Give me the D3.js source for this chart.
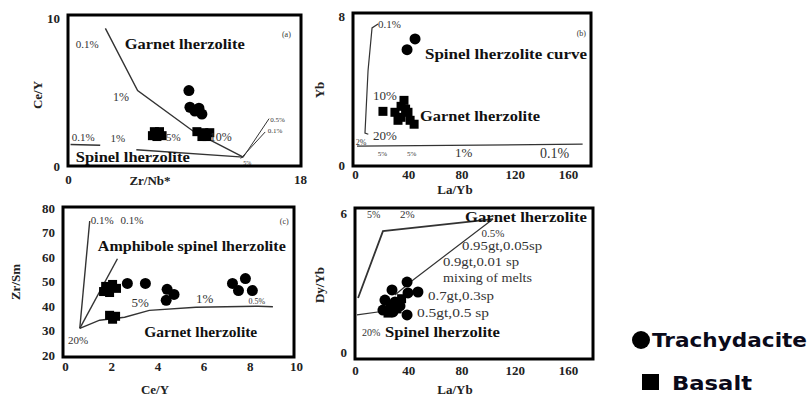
<!DOCTYPE html>
<html>
<head>
<meta charset="utf-8">
<script src="https://cdn.jsdelivr.net/npm/d3@7"></script>
<style>
  body { margin: 0; background: #fff; }
  svg { display: block; }
  .tick text { font-family: "Liberation Serif", serif; font-weight: bold; font-size: 13px; fill: #222; }
</style>
</head>
<body>
<svg id="chart" width="810" height="396"></svg>
<script>
// ---- panel (a): Ce/Y vs Zr/Nb*
const aTrachy = [[9.38, 5.1], [9.46, 3.97], [10.16, 3.91], [10.39, 3.51], [9.84, 3.71]];
const aBasalt = [[6.7, 2.32], [7.1, 2.32], [6.9, 1.99], [7.3, 2.05], [6.55, 2.05],
  [10.0, 2.32], [10.54, 2.25], [11.0, 2.25], [10.39, 1.99], [10.78, 1.99]];
const aGarnetCurve = [[2.9, 9.3], [5.4, 5.1], [9.8, 2.3], [13.6, 0.6]];
const aSpinelLeft = [[0.2, 1.45], [2.5, 1.4]];
const aSpinelCurve = [[5.3, 1.1], [13.6, 0.6]];
const aMix1 = [[13.6, 0.6], [15.6, 3.2]];
const aMix2 = [[13.4, 0.5], [15.3, 2.3]];
const aXTicks = [0, 18];
const aYTicks = [0, 10];

// ---- panel (b): Yb vs La/Yb
const bTrachy = [[45.1, 6.77], [39.1, 6.19]];
const bBasalt = [[21, 2.88], [30, 2.83], [34.6, 3.15], [36.8, 3.47], [34.6, 2.56],
  [39.8, 2.83], [41.4, 2.4], [44.4, 2.19], [32.3, 2.4], [38, 3.0]];
const bSpinelCurve = [[17.3, 7.57], [12.8, 7.36], [9.8, 5.07], [7.5, 1.71], [10, 1.65]];
const bGarnetCurve = [[1.5, 1.01], [171, 1.12]];
const bXTicks = [0, 40, 80, 120, 160];
const bYTicks = [0, 8];

// ---- panel (c): Zr/Sm vs Ce/Y
const cTrachy = [[2.7, 49.2], [3.48, 49.2], [4.42, 46.8], [4.72, 44.7], [4.38, 42.3],
  [7.25, 49.2], [7.81, 51.2], [7.51, 46.3], [8.11, 46.3]];
const cBasalt = [[1.76, 48.0], [2.06, 48.8], [2.23, 47.2], [1.93, 45.5], [1.67, 45.9],
  [1.93, 36.2], [2.19, 35.8], [2.06, 34.6]];
const cSteep1 = [[1.07, 74.7], [0.64, 30.9]];
const cSteep2 = [[2.27, 59.3], [0.64, 30.9]];
const cGarnetCurve = [[0.64, 30.9], [1.5, 34.2], [2.58, 35.4], [3.65, 38.2], [5.67, 39.5], [8.37, 39.9], [9.0, 39.7]];
const cXTicks = [0, 2, 4, 6, 8, 10];
const cYTicks = [20, 30, 40, 50, 60, 70, 80];

// ---- panel (d): Dy/Yb vs La/Yb
const dTrachy = [[39.1, 3.02], [27.8, 2.68], [47.3, 2.59], [39.8, 2.55], [22.5, 2.24],
  [30.1, 2.16], [21.0, 1.81], [28.5, 1.73], [39.1, 1.6], [33.8, 1.99]];
const dBasalt = [[26.3, 2.03], [31.6, 1.86], [24.8, 1.68], [35, 2.3]];
const dGarnetCurve = [[2.3, 2.33], [21, 5.22], [103.7, 5.74]];
const dMixLine = [[103.7, 5.74], [43.6, 3.11], [30, 2.46]];
const dSpinelCurve = [[1.5, 1.6], [22.5, 1.77]];
const dXTicks = [0, 40, 80, 120, 160];
const dYTicks = [0, 6];

const svg = d3.select('#chart');
const serif = '"Liberation Serif", "DejaVu Serif", serif';

function drawPanel(p) {
  const x = d3.scaleLinear().domain(p.xDomain).range(p.xRange);
  const y = d3.scaleLinear().domain(p.yDomain).range(p.yRange);
  const g = svg.append('g');
  const line = d3.line().x(d => x(d[0])).y(d => y(d[1]));

  g.append('g')
    .attr('transform', `translate(0,${p.frame.y1 + 2})`)
    .call(d3.axisBottom(x).tickValues(p.xTicks).tickFormat(d3.format('d')).tickSize(0).tickPadding(p.xPad))
    .call(s => s.select('.domain').remove());
  g.append('g')
    .attr('transform', `translate(${p.frame.x0 - 2},0)`)
    .call(d3.axisLeft(y).tickValues(p.yTicks).tickFormat(d3.format('d')).tickSize(0).tickPadding(6))
    .call(s => s.select('.domain').remove());

  p.lines.forEach(l => {
    g.append('path').datum(l.data)
      .attr('d', line)
      .attr('fill', 'none')
      .attr('stroke', '#333')
      .attr('stroke-width', l.w || 1.4);
  });

  g.selectAll('rect.basalt').data(p.basalt).enter().append('rect')
    .attr('class', 'basalt')
    .attr('x', d => x(d[0]) - 4.5)
    .attr('y', d => y(d[1]) - 4.5)
    .attr('width', 9).attr('height', 9)
    .attr('fill', '#000');

  g.selectAll('circle.trachy').data(p.trachy).enter().append('circle')
    .attr('class', 'trachy')
    .attr('cx', d => x(d[0]))
    .attr('cy', d => y(d[1]))
    .attr('r', 5.5)
    .attr('fill', '#000');

  p.labels.forEach(t => {
    const txt = g.append('text')
      .attr('x', x(t[1])).attr('y', y(t[2]))
      .text(t[0])
      .style('font-family', serif)
      .style('font-size', (t[3] || 11) + 'px')
      .style('font-weight', t[4] ? 'bold' : 'normal')
      .style('fill', t[4] ? '#111' : '#333');
    if (t[5]) txt.attr('textLength', t[5]).attr('lengthAdjust', 'spacingAndGlyphs');
  });

  g.append('rect')
    .attr('x', p.frame.x0).attr('y', p.frame.y0)
    .attr('width', p.frame.x1 - p.frame.x0)
    .attr('height', p.frame.y1 - p.frame.y0)
    .attr('fill', 'none')
    .attr('stroke', '#000')
    .attr('stroke-width', 3);

  g.append('text')
    .attr('x', p.xTitle[1]).attr('y', p.xTitle[2])
    .attr('text-anchor', 'middle')
    .text(p.xTitle[0])
    .style('font-family', serif).style('font-weight', 'bold').style('font-size', '13px').style('fill', '#222');
  g.append('text')
    .attr('transform', `translate(${p.yTitle[1]},${p.yTitle[2]}) rotate(-90)`)
    .attr('text-anchor', 'middle')
    .text(p.yTitle[0])
    .style('font-family', serif).style('font-weight', 'bold').style('font-size', '13px').style('fill', '#222');
}

drawPanel({
  xDomain: [0, 18], xRange: [68, 300], yDomain: [0, 10], yRange: [166, 18],
  frame: {x0: 68, x1: 301, y0: 15, y1: 166}, xPad: 7,
  xTicks: aXTicks, yTicks: aYTicks,
  xTitle: ['Zr/Nb*', 150, 185], yTitle: ['Ce/Y', 42, 95],
  trachy: aTrachy, basalt: aBasalt,
  lines: [{data: aGarnetCurve}, {data: aSpinelLeft}, {data: aSpinelCurve}, {data: aMix1, w: 1}, {data: aMix2, w: 1}],
  labels: [
    ['0.1%', 0.6, 8.0, 11], ['Garnet lherzolite', 4.4, 7.9, 15, true, 120], ['1%', 3.5, 4.4, 12],
    ['0.1%', 0.3, 1.7, 11], ['1%', 3.3, 1.6, 11], ['5%', 7.6, 1.7, 11], ['10%', 11.0, 1.7, 12],
    ['Spinel lherzolite', 0.6, 0.3, 15, true, 114], ['(a)', 16.6, 8.7, 8],
    ['0.5%', 15.7, 3.0, 7], ['0.1%', 15.5, 2.2, 7], ['5%', 13.6, 0.05, 6]
  ]
});

drawPanel({
  xDomain: [0, 160], xRange: [355, 568], yDomain: [0, 8], yRange: [165, 16],
  frame: {x0: 353, x1: 591, y0: 13, y1: 166}, xPad: 2,
  xTicks: bXTicks, yTicks: bYTicks,
  xTitle: ['La/Yb', 455, 194], yTitle: ['Yb', 324, 90],
  trachy: bTrachy, basalt: bBasalt,
  lines: [{data: bSpinelCurve, w: 1.2}, {data: bGarnetCurve, w: 1.2}],
  labels: [
    ['0.1%', 17.3, 7.36, 11], ['Spinel lherzolite curve', 52.6, 5.7, 15, true, 162], ['(b)', 166.5, 6.93, 8],
    ['10%', 13.5, 3.47, 13], ['Garnet lherzolite', 48.8, 2.35, 15, true, 120], ['20%', 13.5, 1.33, 13],
    ['2%', 0.5, 1.1, 8], ['5%', 17, 0.5, 7], ['5%', 39, 0.5, 7],
    ['1%', 75.1, 0.43, 13], ['0.1%', 139, 0.37, 14]
  ]
});

drawPanel({
  xDomain: [0, 10], xRange: [65, 296], yDomain: [20, 80], yRange: [355, 208],
  frame: {x0: 63, x1: 294, y0: 207, y1: 357}, xPad: 3,
  xTicks: cXTicks, yTicks: cYTicks,
  xTitle: ['Ce/Y', 155, 394], yTitle: ['Zr/Sm', 20, 282],
  trachy: cTrachy, basalt: cBasalt,
  lines: [{data: cSteep1}, {data: cSteep2}, {data: cGarnetCurve}],
  labels: [
    ['0.1%', 1.12, 73.5, 11], ['0.1%', 2.4, 73.5, 11], ['(c)', 9.3, 73.5, 8],
    ['Amphibole spinel lherzolite', 1.42, 62.6, 15, true, 188],
    ['5%', 2.88, 39.5, 13], ['1%', 5.67, 41.1, 13], ['0.5%', 7.94, 40.7, 8],
    ['Garnet lherzolite', 3.43, 27.3, 15, true, 113], ['20%', 0.13, 24.5, 11]
  ]
});

drawPanel({
  xDomain: [0, 160], xRange: [355, 568], yDomain: [0, 6], yRange: [352, 213],
  frame: {x0: 355, x1: 593, y0: 208, y1: 359}, xPad: 5,
  xTicks: dXTicks, yTicks: dYTicks,
  xTitle: ['La/Yb', 455, 394], yTitle: ['Dy/Yb', 324, 285],
  trachy: dTrachy, basalt: dBasalt,
  lines: [{data: dGarnetCurve, w: 1.8}, {data: dMixLine, w: 1.2}, {data: dSpinelCurve, w: 1.2}],
  labels: [
    ['5%', 9, 5.78, 10], ['2%', 33.8, 5.78, 11], ['Garnet lherzolite', 82.6, 5.63, 15, true, 122],
    ['0.5%', 95, 4.97, 11], ['0.95gt,0.05sp', 80.4, 4.4, 13, false, 80], ['0.9gt,0.01 sp', 66.1, 3.71, 13, false, 76],
    ['mixing of melts', 66.1, 3.02, 13, false, 89], ['0.7gt,0.3sp', 54.8, 2.24, 13, false, 66], ['0.5gt,0.5 sp', 46.6, 1.51, 13, false, 72],
    ['20%', 5.3, 0.69, 10], ['Spinel lherzolite', 22.5, 0.65, 15, true, 115]
  ]
});

// legend
const legend = svg.append('g');
legend.append('circle').attr('cx', 641).attr('cy', 340).attr('r', 9).attr('fill', '#000');
legend.append('text').attr('x', 652).attr('y', 347).text('Trachydacite')
  .attr('textLength', 155).attr('lengthAdjust', 'spacingAndGlyphs')
  .style('font-family', '"DejaVu Sans", sans-serif').style('font-weight', 'bold').style('font-size', '20px').style('fill', '#0a0a1a');
legend.append('rect').attr('x', 642).attr('y', 374).attr('width', 17).attr('height', 16).attr('fill', '#000');
legend.append('text').attr('x', 672).attr('y', 390).text('Basalt')
  .attr('textLength', 80).attr('lengthAdjust', 'spacingAndGlyphs')
  .style('font-family', '"DejaVu Sans", sans-serif').style('font-weight', 'bold').style('font-size', '20px').style('fill', '#0a0a1a');
</script>
</body>
</html>
